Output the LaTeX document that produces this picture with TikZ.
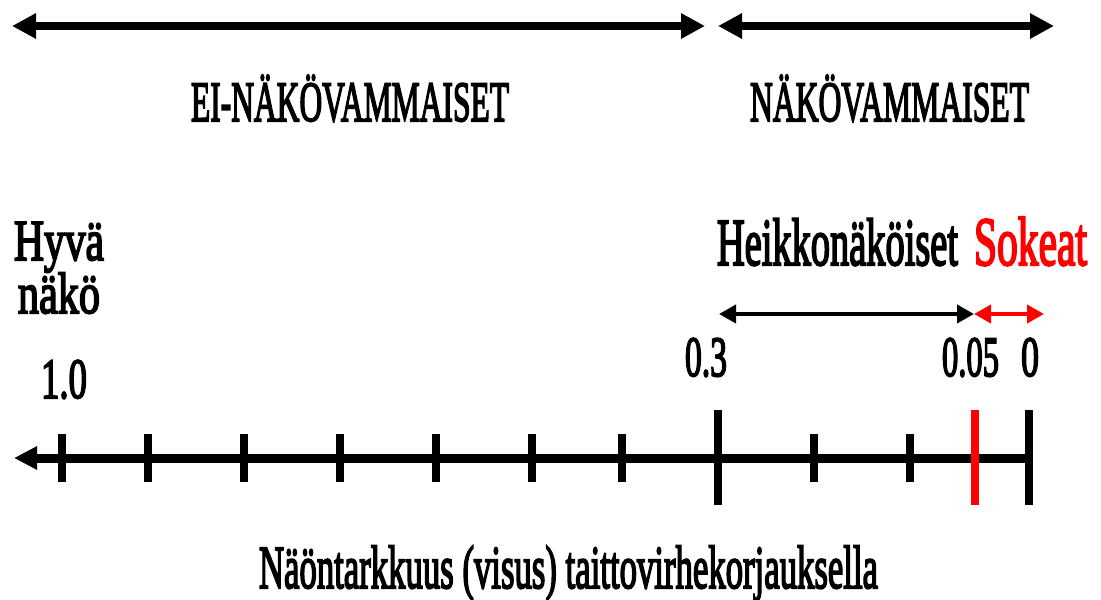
\documentclass[tikz,border=0pt]{standalone}
\usepackage{fontspec}
\setmainfont{Liberation Serif}
\newfontfamily\reffont{Liberation Serif}[FakeBold=3.5]
\usetikzlibrary{arrows.meta}
\definecolor{purered}{RGB}{255,0,0}
% text set at a size (px) and squeezed to a given width (px)
\newcommand{\fittxt}[3]{\resizebox{#1pt}{\height}{\fontsize{#2}{#2}\reffont #3}}
\begin{document}
\begin{tikzpicture}[x=1pt,y=-1pt,
  lbl/.style={inner sep=0pt, outer sep=0pt},
  bigarrow/.style={line width=8pt, {Triangle[length=24pt,width=24pt]}-{Triangle[length=24pt,width=24pt]}},
  axisline/.style={line width=9pt, {Triangle[length=23pt,width=22pt]}-},
  tickmark/.style={line width=8pt},
  smallarrow/.style={line width=4pt, {Triangle[length=17pt,width=18pt]}-{Triangle[length=17pt,width=18pt]}}]
\useasboundingbox (0,0) rectangle (1101,600);
% top arrows
\coordinate (a1l) at (12,26); \coordinate (a1r) at (705,26);
\coordinate (a2l) at (718,26); \coordinate (a2r) at (1054,26);
\draw[bigarrow] (a1l) -- (a1r);
\draw[bigarrow] (a2l) -- (a2r);
\node[lbl, anchor=base west] (ei) at (191,121) {\fittxt{318}{57}{EI-NÄKÖVAMMAISET}};
\node[lbl, anchor=base west] (nv) at (750,121) {\fittxt{279}{57}{NÄKÖVAMMAISET}};
% labels
\node[lbl, anchor=base west] (heik) at (717,265) {\fittxt{241}{67}{Heikkonäköiset}};
\node[lbl, anchor=base west, text=purered] (sok) at (974,265) {\fittxt{113}{69}{Sokeat}};
\node[lbl, anchor=base west] (hyva) at (14,260) {\fittxt{90}{58}{Hyvä}};
\node[lbl, anchor=base west] (nako) at (18,313) {\fittxt{82}{58}{näkö}};
% small arrows
\coordinate (h1) at (719,314); \coordinate (h2) at (974,314); \coordinate (h3) at (1044,314);
\draw[smallarrow] (h1) -- (h2);
\draw[smallarrow, purered] (h2) -- (h3);
% numbers
\node[lbl, anchor=base west] (n10) at (41,398) {\fittxt{46}{57}{1.0}};
\node[lbl, anchor=base west] (n03) at (685,376) {\fittxt{42}{57}{0.3}};
\node[lbl, anchor=base west] (n005) at (942,376) {\fittxt{57}{57}{0.05}};
\node[lbl, anchor=base west] (n0) at (1021,376) {\fittxt{18}{57}{0}};
% axis
\coordinate (axL) at (14,458); \coordinate (axR) at (1029,458);
\draw[axisline] (axL) -- (axR);
\foreach \x in {62,148,244,340,436,532,622,814,910}
  \draw[tickmark] (\x,434) -- (\x,482);
\foreach \x in {718,1029}
  \draw[tickmark] (\x,410) -- (\x,505);
\draw[tickmark, purered] (975,410) -- (975,505);
% bottom label
\node[lbl, anchor=base west] (xlab) at (259,588) {\fittxt{619}{61}{Näöntarkkuus (visus) taittovirhekorjauksella}};
\end{tikzpicture}
\end{document}
